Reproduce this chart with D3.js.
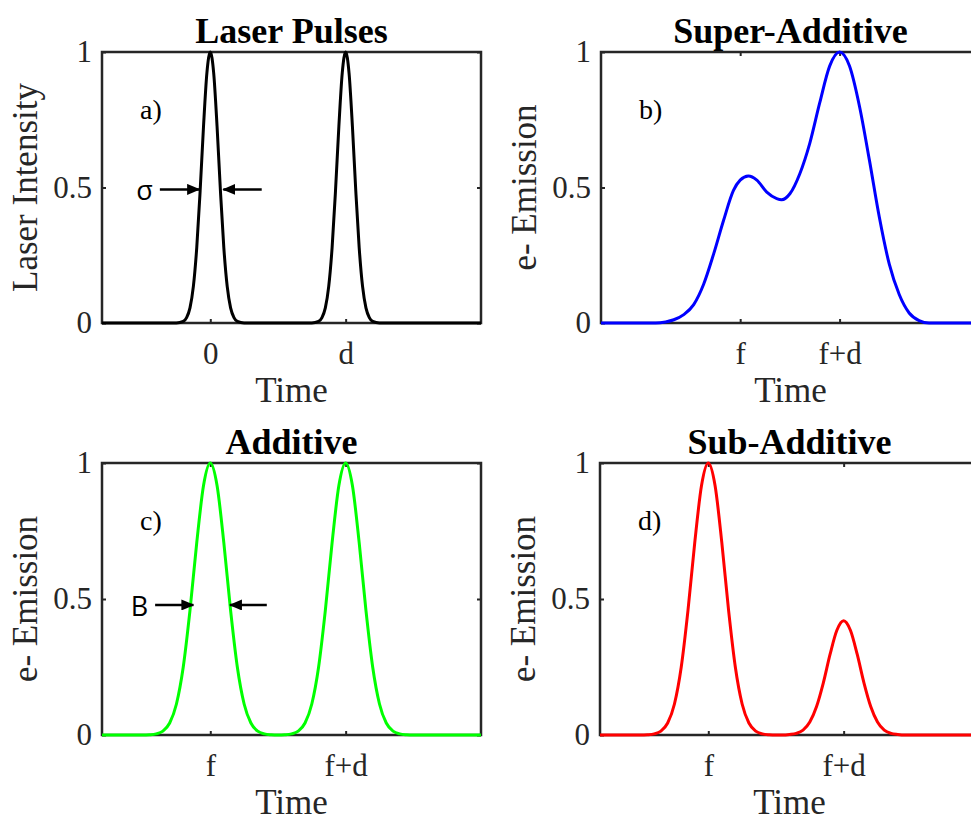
<!DOCTYPE html>
<html>
<head>
<meta charset="utf-8">
<script src="https://cdn.jsdelivr.net/npm/d3@7"></script>
<style>
  body { margin: 0; background: #fff; }
  svg { display: block; }
  svg text { font-family: "Liberation Serif", "Times New Roman", serif; }
  svg text.sans { font-family: "Open Sans", "Liberation Sans", sans-serif; }
</style>
</head>
<body>
<svg id="chart" width="971" height="822"></svg>
<script>
// --- values ---
// a) laser pulses (time, intensity)
const pulseT = [-3.2, -1.0, -0.8, -0.7, -0.6, -0.5, -0.4, -0.3, -0.2, -0.1, 0, 0.1, 0.2, 0.3, 0.4, 0.5, 0.6, 0.7, 0.8, 1.0,
                3.0, 3.2, 3.3, 3.4, 3.5, 3.6, 3.7, 3.8, 3.9, 4.0, 4.1, 4.2, 4.3, 4.4, 4.5, 4.6, 4.7, 4.8, 5.0, 8.0];
const pulseI = [0, 0, 0.006, 0.02, 0.056, 0.135, 0.278, 0.487, 0.726, 0.923, 1, 0.923, 0.726, 0.487, 0.278, 0.135, 0.056, 0.02, 0.006, 0,
                0, 0.006, 0.02, 0.056, 0.135, 0.278, 0.487, 0.726, 0.923, 1, 0.923, 0.726, 0.487, 0.278, 0.135, 0.056, 0.02, 0.006, 0, 0];

// b) super-additive emission
const superT = [-5.6, -3.4, -3.0, -2.67, -2.27, -1.87, -1.47, -1.07, -0.67, -0.27, 0, 0.33, 0.67, 1.07, 1.47, 1.67, 2.0,
                2.4, 2.8, 3.2, 3.6, 4.0, 4.4, 4.8, 5.2, 5.6, 6.0, 6.4, 6.8, 7.2, 7.6, 9.65];
const superE = [0, 0, 0.004, 0.012, 0.031, 0.068, 0.143, 0.254, 0.378, 0.489, 0.527, 0.542, 0.527, 0.483, 0.459, 0.455, 0.477,
                0.551, 0.663, 0.812, 0.948, 1.0, 0.948, 0.8, 0.601, 0.39, 0.217, 0.105, 0.037, 0.009, 0, 0];

// c) additive and d) sub-additive emission share the same time samples
const emitT = [-3.2, -2.0, -1.8, -1.6, -1.4, -1.2, -1.0, -0.8, -0.6, -0.4, -0.2, 0, 0.2, 0.4, 0.6, 0.8, 1.0, 1.2, 1.4, 1.6, 1.8, 2.0,
               2.2, 2.4, 2.6, 2.8, 3.0, 3.2, 3.4, 3.6, 3.8, 4.0, 4.2, 4.4, 4.6, 4.8, 5.0, 5.2, 5.4, 5.6, 5.8, 6.0, 8.0];
const additiveE = [0, 0, 0.001, 0.004, 0.014, 0.044, 0.114, 0.249, 0.458, 0.707, 0.917, 1, 0.917, 0.707, 0.458, 0.249, 0.114, 0.044, 0.014, 0.004, 0.001, 0,
                   0.001, 0.004, 0.014, 0.044, 0.114, 0.249, 0.458, 0.707, 0.917, 1, 0.917, 0.707, 0.458, 0.249, 0.114, 0.044, 0.014, 0.004, 0.001, 0, 0];
const subE = [0, 0, 0.001, 0.004, 0.014, 0.044, 0.114, 0.249, 0.458, 0.707, 0.917, 1, 0.917, 0.707, 0.458, 0.249, 0.114, 0.044, 0.014, 0.004, 0.001, 0,
              0, 0.002, 0.006, 0.018, 0.048, 0.105, 0.192, 0.297, 0.385, 0.42, 0.385, 0.297, 0.192, 0.105, 0.048, 0.018, 0.006, 0.002, 0, 0, 0];

// ticks
const pulseTicks = [0, 4];
const pulseTickLabels = ["0", "d"];
const emitTicks = [0, 4];
const emitTickLabels = ["f", "f+d"];
const yTicks = [0, 0.5, 1];
const yTickLabels = ["0", "0.5", "1"];

// width markers (time of arrow tail / tip, at given level)
const sigmaTails = [-1.49, 1.52], sigmaTips = [-0.33, 0.385], sigmaLevel = 0.493;
const bTails = [-1.63, 1.67], bTips = [-0.5, 0.58], bLevel = 0.478;

const svg = d3.select("#chart");
const W = 379;
const axisColor = "#262626";

svg.append("defs").append("marker")
  .attr("id", "head")
  .attr("markerUnits", "userSpaceOnUse")
  .attr("markerWidth", 13).attr("markerHeight", 11)
  .attr("refX", 12).attr("refY", 5.5)
  .attr("orient", "auto")
  .append("path")
  .attr("d", "M0,0 L13,5.5 L0,11 Z")
  .attr("fill", "#000");

const panels = [
  {left: 102, top: 52, height: 271, domain: [-3.2, 8], t: pulseT, v: pulseI, color: "#000000",
   title: "Laser Pulses", ylabel: "Laser Intensity", ticks: pulseTicks, labels: pulseTickLabels, tag: "a)",
   marker: {name: "σ", tails: sigmaTails, tips: sigmaTips, level: sigmaLevel}},
  {left: 601, top: 52, height: 271, domain: [-5.6, 9.65], t: superT, v: superE, color: "#0000ff",
   title: "Super-Additive", ylabel: "e- Emission", ticks: emitTicks, labels: emitTickLabels, tag: "b)"},
  {left: 102, top: 463, height: 272, domain: [-3.2, 8], t: emitT, v: additiveE, color: "#00ff00",
   title: "Additive", ylabel: "e- Emission", ticks: emitTicks, labels: emitTickLabels, tag: "c)",
   marker: {name: "B", tails: bTails, tips: bTips, level: bLevel}},
  {left: 600, top: 463, height: 272, domain: [-3.2, 8], t: emitT, v: subE, color: "#ff0000",
   title: "Sub-Additive", ylabel: "e- Emission", ticks: emitTicks, labels: emitTickLabels, tag: "d)"}
];

const styleAxis = (sel) => {
  sel.attr("font-family", null).attr("font-size", null);
  sel.select(".domain").remove();
  sel.selectAll("line").attr("stroke", axisColor).attr("stroke-width", 2);
  sel.selectAll("text")
    .attr("fill", axisColor)
    .style("font-size", "31px")
    .style("font-family", "'Liberation Serif', 'Times New Roman', serif");
};

panels.forEach(p => {
  const x = d3.scaleLinear().domain(p.domain).range([p.left, p.left + W]);
  const y = d3.scaleLinear().domain([0, 1]).range([p.top + p.height, p.top]);
  const g = svg.append("g");

  //box
  g.append("rect")
    .attr("x", p.left).attr("y", p.top)
    .attr("width", W).attr("height", p.height)
    .attr("fill", "none")
    .attr("stroke", axisColor)
    .attr("stroke-width", 2.5);

  //axes, ticks pointing inside
  g.append("g")
    .attr("transform", `translate(0,${p.top + p.height})`)
    .call(d3.axisBottom(x).tickValues(p.ticks).tickFormat((d, i) => p.labels[i])
      .tickSizeInner(-4).tickSizeOuter(0).tickPadding(19))
    .call(styleAxis);
  g.append("g")
    .attr("transform", `translate(0,${p.top})`)
    .call(d3.axisTop(x).tickValues(p.ticks).tickFormat("").tickSizeInner(-4).tickSizeOuter(0))
    .call(styleAxis);
  g.append("g")
    .attr("transform", `translate(${p.left},0)`)
    .call(d3.axisLeft(y).tickValues(yTicks).tickFormat((d, i) => yTickLabels[i])
      .tickSizeInner(-4).tickSizeOuter(0).tickPadding(10))
    .call(styleAxis);
  g.append("g")
    .attr("transform", `translate(${p.left + W},0)`)
    .call(d3.axisRight(y).tickValues(yTicks).tickFormat("").tickSizeInner(-4).tickSizeOuter(0))
    .call(styleAxis);

  //labels
  g.append("text")
    .attr("x", p.left + W / 2).attr("y", p.top - 9)
    .attr("text-anchor", "middle")
    .style("font-size", "36px").style("font-weight", "bold")
    .attr("fill", "#000")
    .text(p.title);
  g.append("text")
    .attr("x", p.left + W / 2).attr("y", p.top + p.height + 79)
    .attr("text-anchor", "middle")
    .style("font-size", "35px").attr("fill", axisColor)
    .text("Time");
  g.append("text")
    .attr("transform", `translate(${p.left - 65},${p.top + p.height / 2}) rotate(-90)`)
    .attr("text-anchor", "middle")
    .style("font-size", "35px").attr("fill", axisColor)
    .text(p.ylabel);
  g.append("text")
    .attr("x", p.left + 38).attr("y", p.top + 67)
    .style("font-size", "28px").attr("fill", "#000")
    .text(p.tag);

  //curve
  const line = d3.line()
    .x((d, i) => x(p.t[i]))
    .y(d => y(d))
    .curve(d3.curveMonotoneX);
  g.append("path")
    .datum(p.v)
    .attr("d", line)
    .attr("fill", "none")
    .attr("stroke", p.color)
    .attr("stroke-width", 3)
    .attr("stroke-linejoin", "round");

  //width markers
  if (p.marker) {
    const m = p.marker;
    m.tails.forEach((t, i) => {
      g.append("line")
        .attr("x1", x(t)).attr("y1", y(m.level))
        .attr("x2", x(m.tips[i])).attr("y2", y(m.level))
        .attr("stroke", "#000").attr("stroke-width", 2.5)
        .attr("marker-end", "url(#head)");
    });
    g.append("text")
      .attr("class", "sans")
      .attr("x", x(m.tails[0]) - 7).attr("y", y(m.level) + 11)
      .attr("text-anchor", "end")
      .style("font-size", "27px").attr("fill", "#000")
      .text(m.name);
  }
});
</script>
</body>
</html>
